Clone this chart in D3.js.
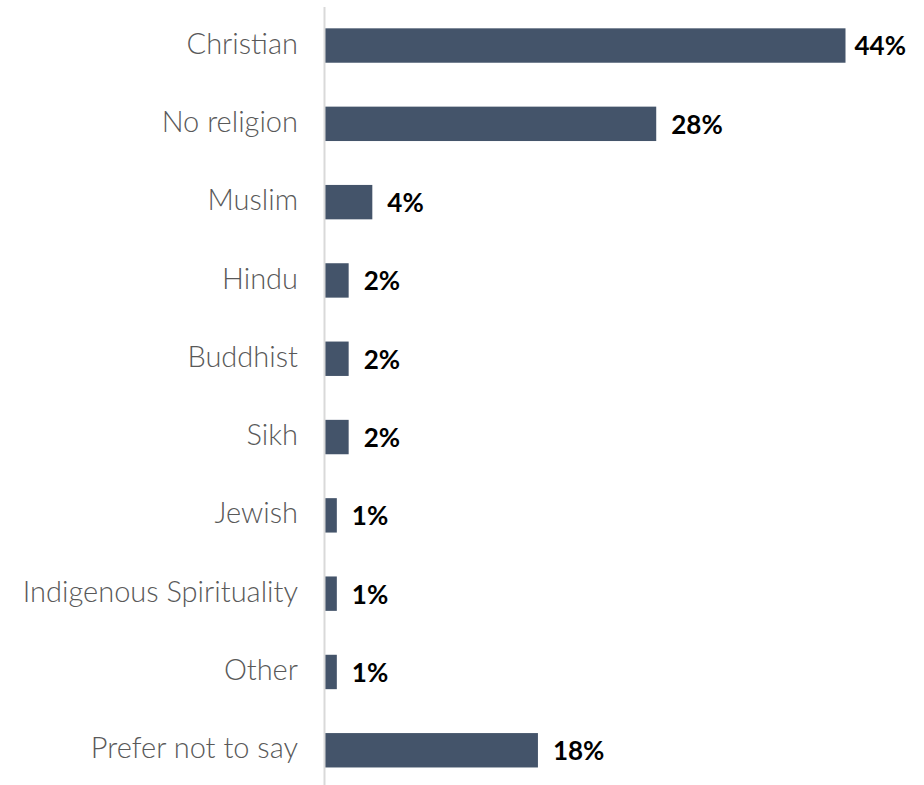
<!DOCTYPE html>
<html>
<head>
<meta charset="utf-8">
<script src="https://cdn.jsdelivr.net/npm/d3@7"></script>
<style>
  html, body { margin: 0; padding: 0; background: #ffffff; }
  svg { display: block; }
</style>
</head>
<body>
<svg id="chart" width="924" height="785"></svg>
<script>
// Religion of respondents, share of total (%)
const categories = [
  "Christian",
  "No religion",
  "Muslim",
  "Hindu",
  "Buddhist",
  "Sikh",
  "Jewish",
  "Indigenous Spirituality",
  "Other",
  "Prefer not to say"
];
const shares = [44, 28, 4, 2, 2, 2, 1, 1, 1, 18];

const data = categories.map((name, i) => ({ name, value: shares[i] }));

const svg = d3.select("#chart");
const W = 924, H = 785;

const axisX = 324;

const x = d3.scaleLinear()
  .domain([0, 44])
  .range([axisX + 1, 845.5]);

const y = d3.scaleBand()
  .domain(categories)
  .range([6.4, 789.4])
  .paddingInner(0.5607)
  .paddingOuter(0.28);

// bars
svg.append("g")
  .selectAll("rect")
  .data(data)
  .join("rect")
  .attr("x", x(0))
  .attr("y", d => y(d.name))
  .attr("width", d => x(d.value) - x(0))
  .attr("height", y.bandwidth())
  .attr("fill", "#44546a");

// category axis with a light vertical baseline
const yAxis = svg.append("g")
  .attr("transform", `translate(${axisX},0)`)
  .call(d3.axisLeft(y).tickSize(0).tickSizeOuter(0).tickPadding(26));

yAxis.select(".domain")
  .attr("stroke", "#d9d9d9")
  .attr("stroke-width", 2);

yAxis.selectAll(".tick text")
  .attr("fill", "#595959")
  .attr("font-family", "Lato, 'Open Sans', sans-serif")
  .attr("font-weight", 300)
  .attr("font-size", 29)
  .attr("dy", "0.28em");

// value labels
const fmt = v => v + "%";
const labels = svg.append("g")
  .selectAll("text")
  .data(data)
  .join("text")
  .attr("y", d => y(d.name) + y.bandwidth() / 2)
  .attr("dy", "0.38em")
  .attr("font-family", "Lato, 'Open Sans', sans-serif")
  .attr("font-weight", 700)
  .attr("font-size", 26)
  .attr("fill", "#000000")
  .text(d => fmt(d.value));

// keep labels inside the right edge
labels.each(function(d) {
  const w = this.getComputedTextLength();
  const px = Math.min(x(d.value) + 15, W - 18 - w);
  d3.select(this).attr("x", px);
});
</script>
</body>
</html>
